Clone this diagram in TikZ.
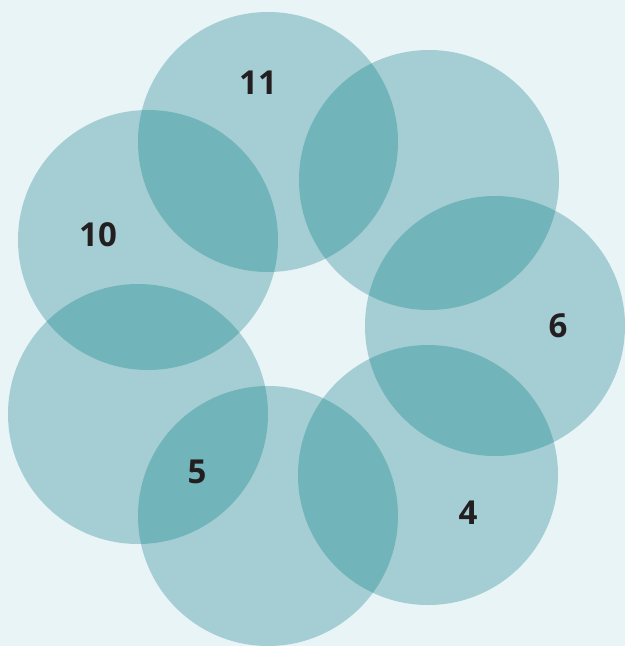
\documentclass[tikz,border=0pt]{standalone}
\usepackage{fontspec}
\setsansfont{Open Sans}
\usepackage{xcolor}
\usepackage{tikz}
\usetikzlibrary{positioning}
\definecolor{bgcol}{HTML}{E8F4F5}
\definecolor{ringcol}{HTML}{A5CED4}
\definecolor{lenscol}{HTML}{71B5BB}
\definecolor{numcol}{HTML}{231F20}
\tikzset{
  ring/.style={circle, fill=ringcol, minimum size=260pt, inner sep=0pt},
  lens/.style={fill=lenscol},
  num/.style={text=numcol, font=\sffamily\bfseries\fontsize{33}{38}\selectfont},
}

\begin{document}
\begin{tikzpicture}[x=1pt, y=-1pt]
  \fill[bgcol] (0,0) rectangle (625,646);
  \useasboundingbox (0,0) rectangle (625,646);
  % the seven rings
  \node[ring] (c1) at (268,142) {};
  \node[ring] (c2) at (429,180) {};
  \node[ring] (c3) at (495,326) {};
  \node[ring] (c4) at (428,475) {};
  \node[ring] (c5) at (268,516) {};
  \node[ring] (c6) at (138,414) {};
  \node[ring] (c7) at (148,240) {};
  % overlaps of neighbours
  \foreach \a/\b in {c1/c2, c2/c3, c3/c4, c4/c5, c5/c6, c6/c7, c7/c1} {
    \begin{scope}
      \clip (\a.center) circle (130pt);
      \fill[lens] (\b.center) circle (130pt);
    \end{scope}
  }
  % labels
  \node[num] (n11) at (258,83) {11};
  \node[num] (n10) at (98,235) {10};
  \node[num] (n6) at (558,326) {6};
  \node[num] (n4) at (468,513) {4};
  \node[num] (n5) at (197,472) {5};
\end{tikzpicture}
\end{document}
